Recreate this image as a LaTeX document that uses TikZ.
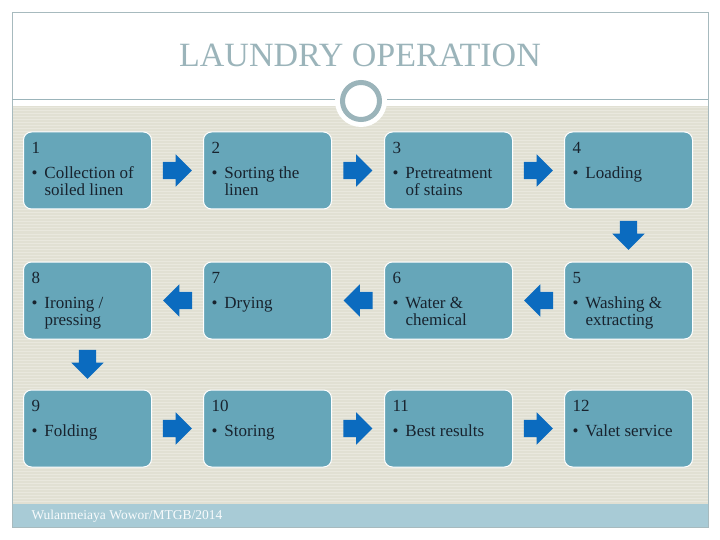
\documentclass[tikz,border=0pt]{standalone}
\usepackage{fontspec}
\setmainfont{Liberation Serif}
\usetikzlibrary{shapes.arrows,calc}

\definecolor{framegray}{HTML}{A7BABE}
\definecolor{titlegray}{HTML}{9BB4BA}
\definecolor{paper}{HTML}{E1E0D3}
\definecolor{stripe}{HTML}{E9E8DE}
\definecolor{boxblue}{HTML}{66A6B9}
\definecolor{arrowblue}{HTML}{0B6BBF}
\definecolor{footblue}{HTML}{A8CBD6}
\definecolor{inkdark}{HTML}{18232E}

% text of one step: number, then a bullet with a hanging second line
\newcommand{\steptext}[3]{\parbox[c][56pt][t]{112pt}{\color{inkdark}\fontsize{17}{17}\selectfont
  #1\par\vspace{8pt}\textbullet\hspace{7pt}#2\par
  \hspace*{13pt}#3}}

\begin{document}
\begin{tikzpicture}[x=1pt,y=-1pt,
	stepbox/.style={draw=white,line width=1pt,fill=boxblue,rounded corners=8pt,
		minimum width=128pt,minimum height=77pt,inner sep=0pt},
	blockarrow/.style={single arrow,fill=arrowblue,inner xsep=0pt,inner ysep=8.5pt,
		minimum height=29pt,single arrow head extend=7.5pt,xshift=-4.5pt},
	goright/.style={blockarrow},
	goleft/.style={rotate=180,blockarrow},
	godown/.style={rotate=-90,blockarrow}]
		\useasboundingbox (0,0) rectangle (720,540);

		% slide frame and background
		\fill[paper] (12,106) rectangle (708,504);
		\foreach \y in {108,111,...,503}
			\draw[stripe,line width=1pt] (12,\y) -- (708,\y);
		\fill[footblue] (12,504) rectangle (708,527);
		\draw[framegray,line width=0.8pt] (12,12) rectangle (708,527);
		\draw[titlegray,line width=1.2pt] (12,99.5) -- (708,99.5);
		\fill[white] (361,101) circle (26);
		\draw[titlegray,line width=5pt] (361,101) circle (18.5);

		\node[titlegray,font=\fontsize{34}{38}\selectfont] (title) at (360,55) {LAUNDRY OPERATION};
		\node[anchor=west,white!92!footblue,font=\fontsize{13.5}{15}\selectfont] (credit) at (28,516) {Wulanmeiaya Wowor/MTGB/2014};

		% Row 1
		\node[stepbox] (s1) at (87.5,170.5) {\steptext{1}{Collection of}{soiled linen}};
		\node[stepbox] (s2) at (267.5,170.5) {\steptext{2}{Sorting the}{linen}};
		\node[stepbox] (s3) at (448.5,170.5) {\steptext{3}{Pretreatment}{of stains}};
		\node[stepbox] (s4) at (628.5,170.5) {\steptext{4}{Loading}{}};

		% Row 2 (runs right to left)
		\node[stepbox] (s5) at (628.5,300.5) {\steptext{5}{Washing \&}{extracting}};
		\node[stepbox] (s6) at (448.5,300.5) {\steptext{6}{Water \&}{chemical}};
		\node[stepbox] (s7) at (267.5,300.5) {\steptext{7}{Drying}{}};
		\node[stepbox] (s8) at (87.5,300.5) {\steptext{8}{Ironing /}{pressing}};

		% Row 3
		\node[stepbox] (s9) at (87.5,428.5) {\steptext{9}{Folding}{}};
		\node[stepbox] (s10) at (267.5,428.5) {\steptext{10}{Storing}{}};
		\node[stepbox] (s11) at (448.5,428.5) {\steptext{11}{Best results}{}};
		\node[stepbox] (s12) at (628.5,428.5) {\steptext{12}{Valet service}{}};

		% arrows between the steps
		\node[goright] (a12) at ($(s1.east)!0.5!(s2.west)$) {};
		\node[goright] (a23) at ($(s2.east)!0.5!(s3.west)$) {};
		\node[goright] (a34) at ($(s3.east)!0.5!(s4.west)$) {};
		\node[godown] (a45) at ($(s4.south)!0.5!(s5.north)$) {};
		\node[goleft] (a56) at ($(s5.west)!0.5!(s6.east)$) {};
		\node[goleft] (a67) at ($(s6.west)!0.5!(s7.east)$) {};
		\node[goleft] (a78) at ($(s7.west)!0.5!(s8.east)$) {};
		\node[godown] (a89) at ($(s8.south)!0.5!(s9.north)$) {};
		\node[goright] (a910) at ($(s9.east)!0.5!(s10.west)$) {};
		\node[goright] (a1011) at ($(s10.east)!0.5!(s11.west)$) {};
		\node[goright] (a1112) at ($(s11.east)!0.5!(s12.west)$) {};
	\end{tikzpicture}
\end{document}
